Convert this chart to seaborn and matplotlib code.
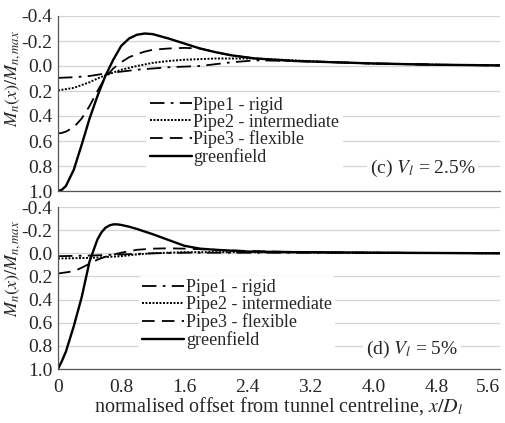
import numpy as np
import pandas as pd
import matplotlib
matplotlib.use("Agg")
import matplotlib.pyplot as plt
import seaborn as sns

# ---------------- data ----------------
# panel (c) V_l = 2.5%
c_green_x = [0, 0.05, 0.1, 0.2, 0.3, 0.4, 0.5, 0.6, 0.7, 0.8, 0.9, 1.0, 1.1, 1.2, 1.4, 1.6, 1.8, 2.0, 2.2, 2.5, 3.0, 3.5, 4.0, 4.8, 5.6]
c_green_y = [1.0, 0.99, 0.96, 0.83, 0.63, 0.42, 0.24, 0.08, -0.05, -0.16, -0.22, -0.25, -0.26, -0.255, -0.22, -0.18, -0.14, -0.11, -0.085, -0.06, -0.04, -0.03, -0.02, -0.01, -0.005]
c_pipe3_x = [0, 0.05, 0.1, 0.2, 0.3, 0.4, 0.5, 0.6, 0.7, 0.8, 0.9, 1.0, 1.1, 1.2, 1.4, 1.6, 1.8, 2.0, 2.2, 2.5, 3.0, 3.5, 4.0, 4.8, 5.6]
c_pipe3_y = [0.54, 0.535, 0.525, 0.49, 0.42, 0.32, 0.2, 0.09, 0.02, -0.03, -0.07, -0.095, -0.115, -0.13, -0.14, -0.145, -0.14, -0.11, -0.085, -0.06, -0.04, -0.03, -0.02, -0.01, -0.005]
c_pipe2_x = [0, 0.2, 0.4, 0.5, 0.6, 0.8, 1.0, 1.2, 1.4, 1.6, 1.8, 2.0, 2.5, 3.0, 3.5, 4.0, 4.8, 5.6]
c_pipe2_y = [0.195, 0.175, 0.13, 0.10, 0.075, 0.03, 0.0, -0.025, -0.04, -0.05, -0.055, -0.06, -0.06, -0.045, -0.03, -0.02, -0.01, -0.005]
c_pipe1_x = [0, 0.2, 0.4, 0.6, 0.8, 1.0, 1.2, 1.4, 1.6, 1.8, 2.0, 2.2, 2.5, 3.0, 3.5, 4.0, 4.8, 5.6]
c_pipe1_y = [0.095, 0.09, 0.08, 0.06, 0.045, 0.03, 0.02, 0.01, 0.005, 0.0, -0.015, -0.03, -0.045, -0.04, -0.03, -0.02, -0.01, -0.005]

# panel (d) V_l = 5%
d_green_x = [0, 0.05, 0.1, 0.2, 0.3, 0.4, 0.5, 0.55, 0.6, 0.65, 0.7, 0.75, 0.8, 0.9, 1.0, 1.2, 1.4, 1.6, 1.8, 2.0, 2.4, 3.0, 4.0, 5.6]
d_green_y = [1.0, 0.93, 0.85, 0.63, 0.38, 0.07, -0.12, -0.18, -0.22, -0.24, -0.25, -0.25, -0.245, -0.23, -0.21, -0.165, -0.115, -0.065, -0.04, -0.03, -0.015, -0.01, -0.005, 0.0]
d_pipe3_x = [0, 0.2, 0.3, 0.4, 0.5, 0.6, 0.7, 0.8, 1.0, 1.2, 1.4, 1.6, 1.8, 2.0, 2.4, 3.0, 4.0, 5.6]
d_pipe3_y = [0.175, 0.155, 0.125, 0.09, 0.055, 0.03, 0.012, -0.005, -0.03, -0.04, -0.043, -0.04, -0.035, -0.03, -0.02, -0.01, -0.005, 0.0]
d_pipe2_x = [0, 0.4, 0.8, 1.0, 1.2, 1.6, 2.0, 3.0, 4.0, 5.6]
d_pipe2_y = [0.045, 0.04, 0.025, 0.01, 0.0, -0.01, -0.01, -0.008, -0.005, 0.0]
d_pipe1_x = [0, 0.4, 0.8, 1.2, 1.6, 2.4, 4.0, 5.6]
d_pipe1_y = [0.025, 0.02, 0.01, 0.0, -0.005, -0.005, -0.005, 0.0]

series_labels = ["Pipe1 - rigid", "Pipe2 - intermediate", "Pipe3 - flexible", "greenfield"]
panel_titles = [r"(c) $V_l$ = 2.5%", r"(d) $V_l$ = 5%"]
x_ticks = [0, 0.8, 1.6, 2.4, 3.2, 4.0, 4.8, 5.6]
x_tick_labels = ["0", "0.8", "1.6", "2.4", "3.2", "4.0", "4.8", "5.6"]
y_ticks = [-0.4, -0.2, 0.0, 0.2, 0.4, 0.6, 0.8, 1.0]
y_tick_labels = ["-0.4", "-0.2", "0.0", "0.2", "0.4", "0.6", "0.8", "1.0"]

# ---------------- style ----------------
sns.set_style("white")
plt.rcParams["font.family"] = ["Liberation Serif", "DejaVu Serif"]
plt.rcParams["mathtext.fontset"] = "stix"

styles = [(0, (8, 3.5, 1.5, 3.5)), (0, (1, 0.8)), (0, (7, 4)), "-"]
widths = [1.3, 1.4, 1.3, 1.7]

fig = plt.figure(figsize=(5.05, 4.23), dpi=100)
L, R = 58 / 505, 500 / 505
ax_c = fig.add_axes([L, 1 - 191 / 423, R - L, (191 - 16) / 423])
ax_d = fig.add_axes([L, 1 - 369 / 423, R - L, (369 - 207) / 423])

panels = [
    (ax_c, [(c_pipe1_x, c_pipe1_y), (c_pipe2_x, c_pipe2_y), (c_pipe3_x, c_pipe3_y), (c_green_x, c_green_y)]),
    (ax_d, [(d_pipe1_x, d_pipe1_y), (d_pipe2_x, d_pipe2_y), (d_pipe3_x, d_pipe3_y), (d_green_x, d_green_y)]),
]

leg_anchor = [(0.2, 0.56), (0.183, 0.575)]
title_pos = [(0.945, 0.13), (0.905, 0.12)]

for i, (ax, data) in enumerate(panels):
    handles = []
    for (xs, ys), lab, ls, lw in zip(data, series_labels, styles, widths):
        df = pd.DataFrame({"x": xs, "y": ys})
        sns.lineplot(data=df, x="x", y="y", ax=ax, color="black", sort=False,
                     linewidth=lw, label=lab)
        ln = ax.get_lines()[-1]
        ln.set_linestyle(ls)
        handles.append(ln)
    ax.set_xlim(0, 5.6)
    ax.set_ylim(1.0, -0.4)
    ax.set_yticks(y_ticks)
    ax.set_yticklabels(y_tick_labels, fontsize=14)
    ax.set_xticks(x_ticks)
    if i == 1:
        ax.set_xticklabels(x_tick_labels, fontsize=14)
        ax.get_xticklabels()[-1].set_horizontalalignment("right")
        ax.set_xlabel(r"normalised offset from tunnel centreline, $x/D_l$", fontsize=14.5, labelpad=-1)
    else:
        ax.set_xticklabels([])
        ax.set_xlabel("")
    ax.set_ylabel(r"$M_n(x)/M_{n,max}$", fontsize=13)
    ax.yaxis.set_label_coords(-0.079, 0.64 if i == 0 else 0.62)
    ax.grid(axis="y", color="#d4d4d4", linewidth=0.9)
    ax.grid(axis="x", visible=False)
    for s in ["top", "right"]:
        ax.spines[s].set_visible(False)
    for s in ["left", "bottom"]:
        ax.spines[s].set_color("#555555")
        ax.spines[s].set_linewidth(0.9)
    ax.tick_params(axis="x", direction="inout", length=5, width=0.8, color="#555555", pad=5)
    ax.tick_params(axis="y", length=0, pad=4)
    leg = ax.legend(handles=handles, labels=series_labels, loc="upper left",
                    bbox_to_anchor=leg_anchor[i], frameon=True,
                    facecolor="white", edgecolor="none", framealpha=1,
                    fontsize=13, handlelength=2.3, handletextpad=0.1,
                    labelspacing=0.0, borderpad=0.2, borderaxespad=0)
    ax.text(title_pos[i][0], title_pos[i][1], panel_titles[i], transform=ax.transAxes,
            ha="right", va="center", fontsize=14,
            bbox=dict(facecolor="white", edgecolor="none", pad=2))

fig.savefig("out.png", dpi=100)
